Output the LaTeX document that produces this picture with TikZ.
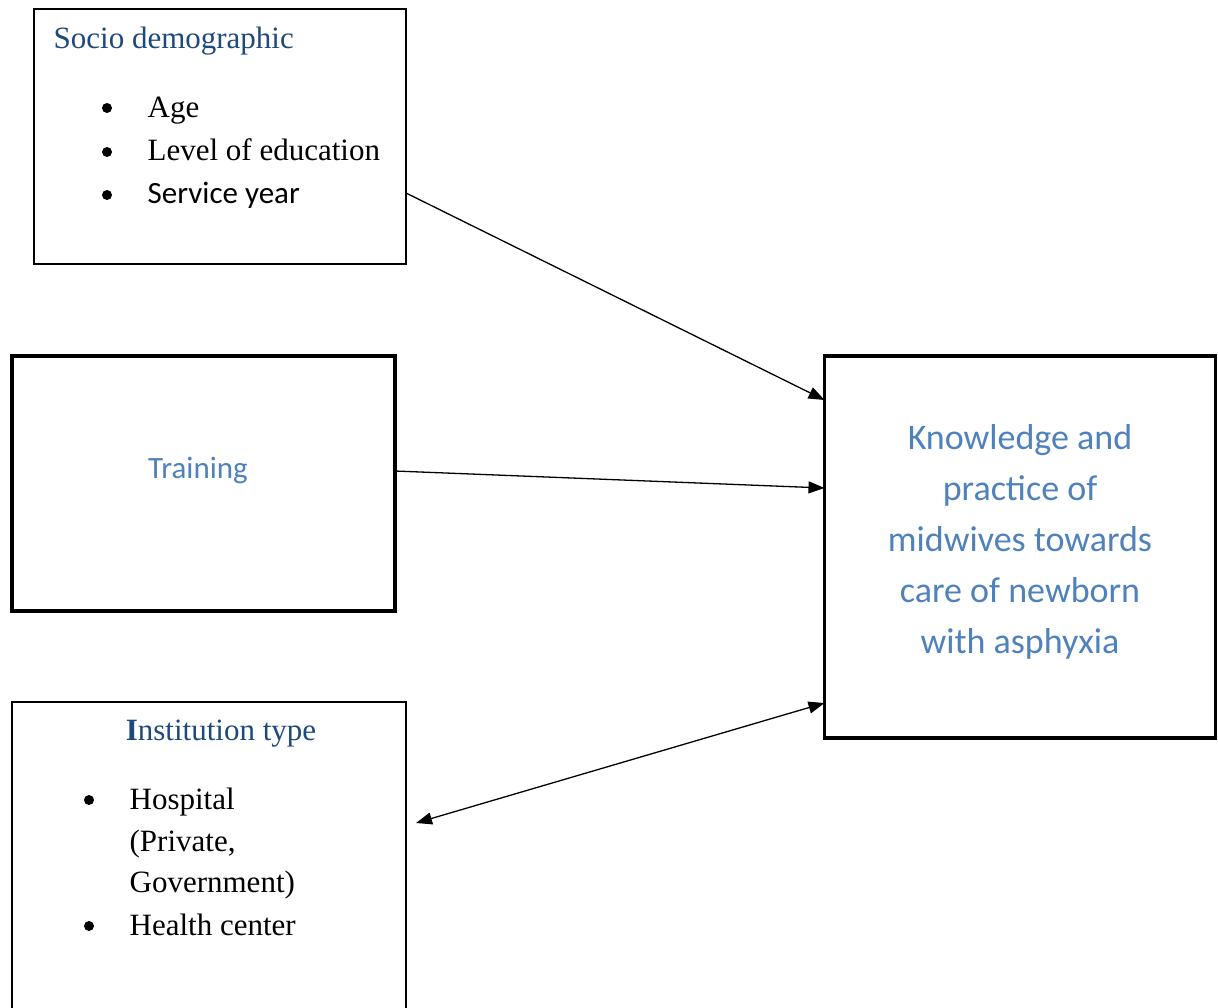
\documentclass[tikz,border=0pt]{standalone}
\usepackage{fontspec}
\setmainfont{Liberation Serif}
\newfontfamily\calibri{Carlito}
\usetikzlibrary{arrows.meta}
\definecolor{darkblue}{RGB}{31,73,125}
\definecolor{lightblue}{RGB}{79,129,189}

\begin{document}
\begin{tikzpicture}[x = 1pt, y = -1pt, line width = 1.3pt,
                    thinbox/.style = {rectangle, draw, line width = 1.2pt, inner sep = 0pt, outer sep = 0pt},
                    thickbox/.style = {rectangle, draw, line width = 3.5pt, inner sep = 0pt, outer sep = 0pt},
                    serif/.style = {font = \fontsize{31}{37}\selectfont, inner sep = 0pt, anchor = base west},
                    sans/.style = {font = \calibri\fontsize{31}{37}\selectfont, inner sep = 0pt},
                    head/.style = {serif, text = darkblue},
                    bul/.style = {circle, fill = black, inner sep = 0pt, minimum size = 10pt},
                    arr/.style = {-{Triangle[length = 16pt, width = 12pt]}},
                    dbl/.style = {{Triangle[length = 16pt, width = 12pt]}-{Triangle[length = 16pt, width = 12pt]}}]
  \clip (0,0) rectangle (1218,1007);

  % boxes
  \node [thinbox, minimum width = 372pt, minimum height = 255pt] (socio) at (220,136.5) {};
  \node [thickbox, minimum width = 383pt, minimum height = 255pt] (train) at (203.5,483.5) {};
  \node [thinbox, minimum width = 394pt, minimum height = 320pt] (inst) at (209,862) {};
  \node [thickbox, minimum width = 391pt, minimum height = 382pt] (know) at (1020,547) {};

  % socio demographic
  \node [head] (sociotitle) at (53,48) {Socio demographic};
  \node [bul] (b1) at (107,108) {};
  \node [bul] (b2) at (107,152) {};
  \node [bul] (b3) at (107,195) {};
  \node [serif] (age) at (147,117) {Age};
  \node [serif] (edu) at (147,160) {Level of education};
  \node [sans, anchor = base west] (serv) at (147,203) {Service year};

  % training
  \node [sans, anchor = base, text = lightblue] (traintxt) at (198,478) {Training};

  % institution type
  \node [head, anchor = base] (insttitle) at (221,740) {\textbf{I}nstitution type};
  \node [bul] (b4) at (89,800) {};
  \node [bul] (b5) at (89,926) {};
  \node [serif] (hosp) at (129,809) {Hospital};
  \node [serif] (priv) at (129,851) {(Private,};
  \node [serif] (gov) at (129,892) {Government)};
  \node [serif] (hc) at (129,935) {Health center};

  % outcome
  \node [sans, align = center, text = lightblue, font = \calibri\fontsize{36}{51}\selectfont] (knowtxt) at (1020,542)
    {Knowledge and\\practice of\\midwives towards\\care of newborn\\with asphyxia};

  \coordinate (instend) at (416,823);
  \draw [arr] ([yshift = -56.5pt]socio.east) -- ([yshift = 147pt]know.west);
  \draw [arr] ([yshift = 12.5pt]train.east) -- ([yshift = 59pt]know.west);
  \draw [dbl] (instend) -- ([yshift = -156pt]know.west);
\end{tikzpicture}
\end{document}
